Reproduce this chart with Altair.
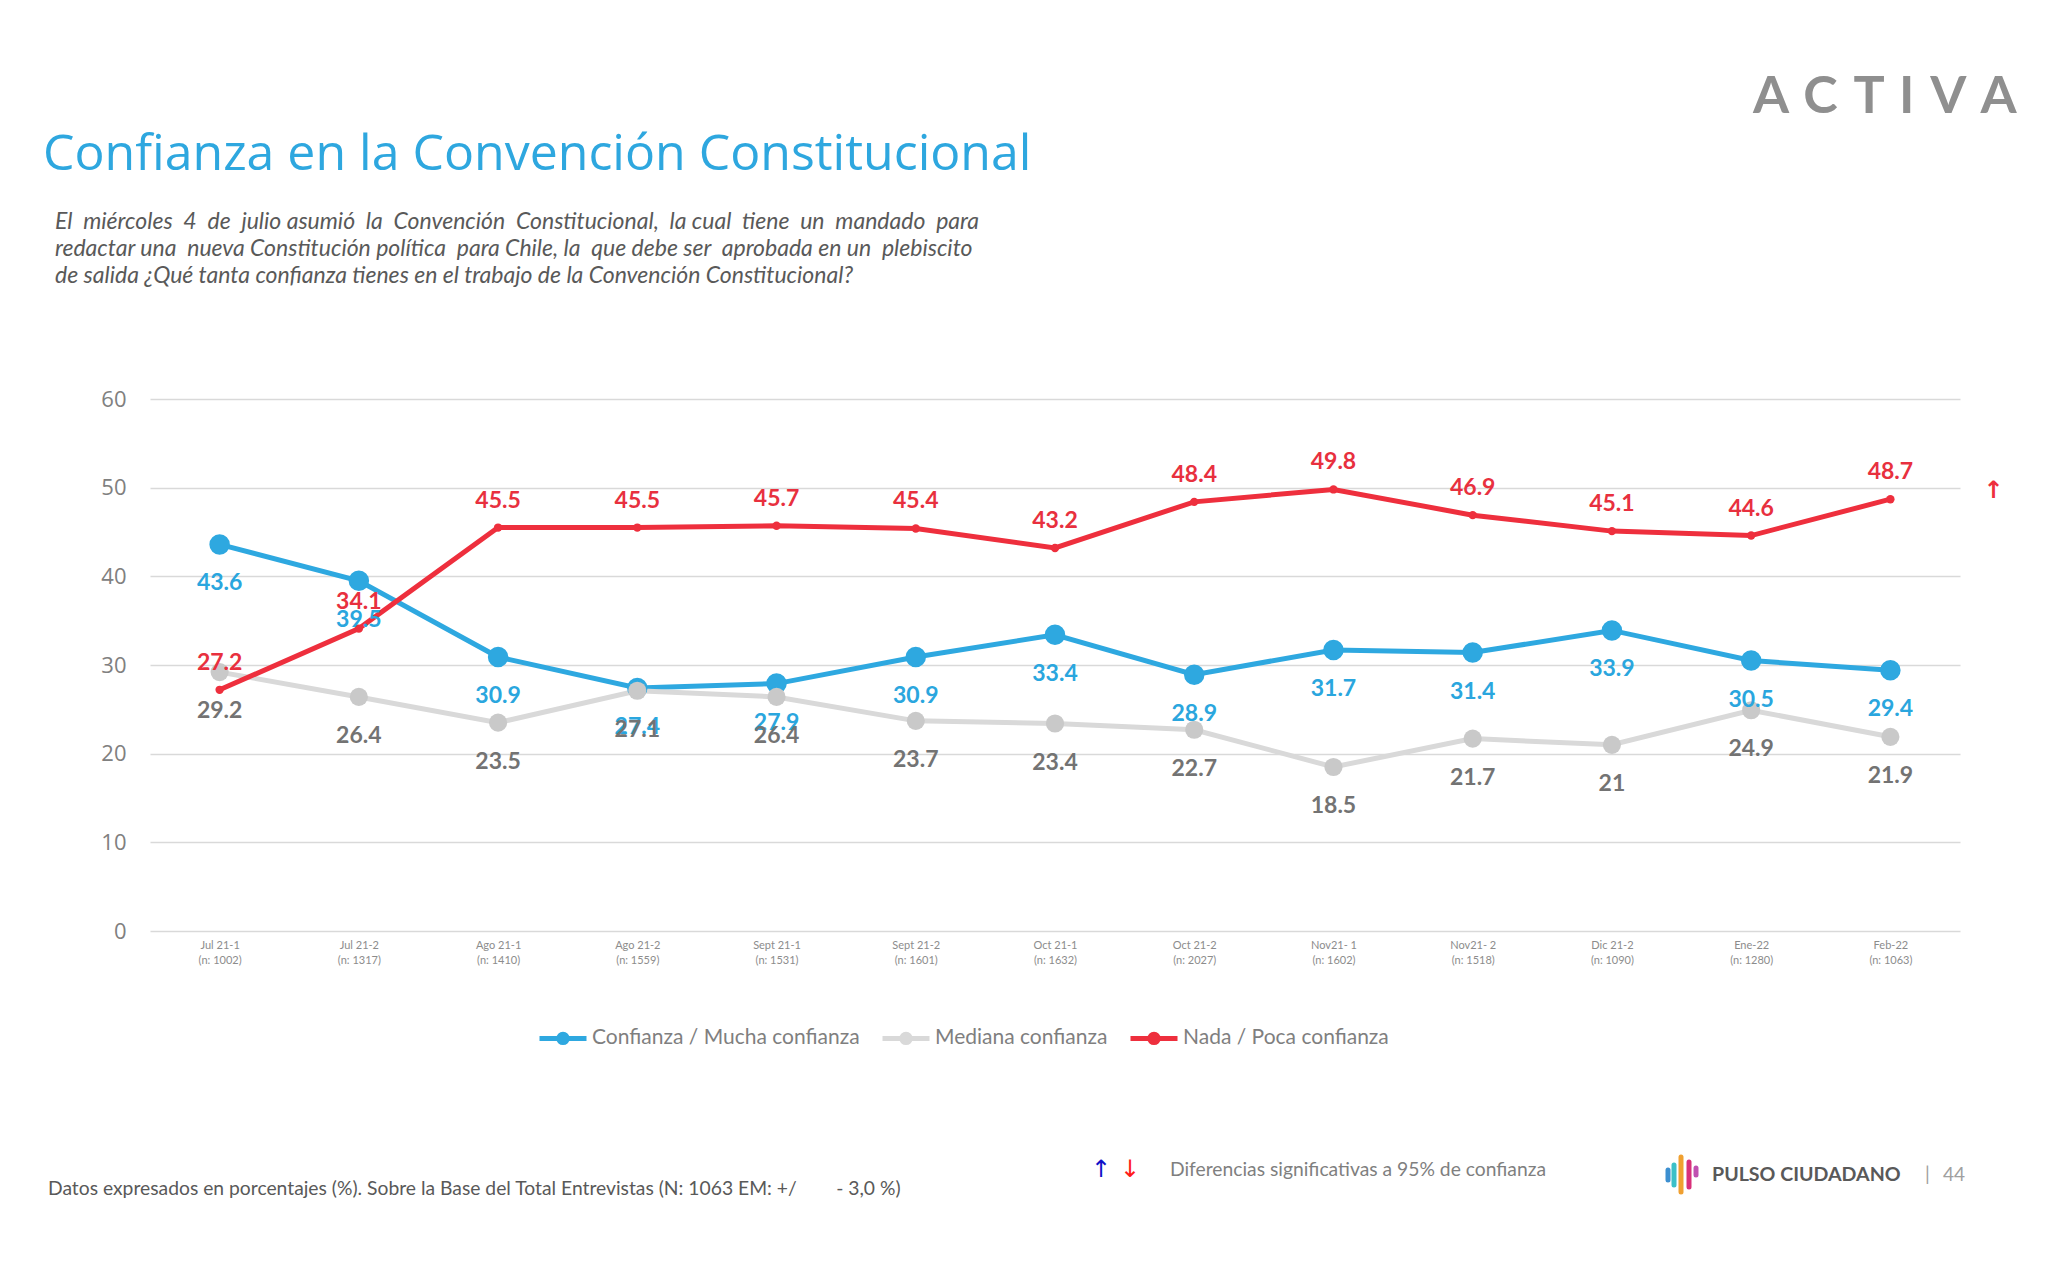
import altair as alt
import pandas as pd

# survey waves and their sample sizes
periods = ["Jul 21-1", "Jul 21-2", "Ago 21-1", "Ago 21-2", "Sept 21-1", "Sept 21-2",
           "Oct 21-1", "Oct 21-2", "Nov21- 1", "Nov21- 2", "Dic 21-2", "Ene-22", "Feb-22"]
sample_n = [1002, 1317, 1410, 1559, 1531, 1601, 1632, 2027, 1602, 1518, 1090, 1280, 1063]

series = ["Confianza / Mucha confianza", "Mediana confianza", "Nada / Poca confianza"]
confianza = [43.6, 39.5, 30.9, 27.4, 27.9, 30.9, 33.4, 28.9, 31.7, 31.4, 33.9, 30.5, 29.4]
mediana = [29.2, 26.4, 23.5, 27.1, 26.4, 23.7, 23.4, 22.7, 18.5, 21.7, 21, 24.9, 21.9]
nada = [27.2, 34.1, 45.5, 45.5, 45.7, 45.4, 43.2, 48.4, 49.8, 46.9, 45.1, 44.6, 48.7]

# significant change marker
sig_series = "Nada / Poca confianza"
sig_period = "Feb-22"

line_colors = ["#2EA8E0", "#D9D9D9", "#EE2F3D"]
dot_colors = ["#2EA8E0", "#C9C9C9", "#EE2F3D"]
dot_sizes = [420, 330, 70]
label_colors = ["#2AA6DE", "#737373", "#E8303E"]
label_dy = [39, 39, -27]

ticks = [f"{p}|(n: {n})" for p, n in zip(periods, sample_n)]

rows = []
for name, values in zip(series, [confianza, mediana, nada]):
    for p, t, v in zip(periods, ticks, values):
        rows.append({"series": name, "period": p, "tick": t, "value": v,
                     "label": f"{v:g}"})
df = pd.DataFrame(rows)

x = alt.X("tick:N", sort=ticks, scale=alt.Scale(type="point", padding=0.5),
          axis=alt.Axis(title=None, labelExpr="split(datum.label, '|')", labelAngle=0,
                        labelFontSize=11, labelColor="#8c8c8c", labelPadding=8,
                        labelLineHeight=15, domain=False, ticks=False, grid=False,
                        labelFont="Lato"))
y = alt.Y("value:Q", scale=alt.Scale(domain=[0, 60]),
          axis=alt.Axis(title=None, values=[0, 10, 20, 30, 40, 50, 60], labelFontSize=22,
                        labelColor="#808080", labelPadding=24, domain=False, ticks=False,
                        gridColor="#D9D9D9", gridWidth=1.3, labelFont="Open Sans"))

base = alt.Chart(df)

# line with a filled dot: two stroked rings make the dot look solid
legend_symbol = ("M-1,0L1,0"
                 "M-0.18,0A0.18,0.18,0,1,0,0.18,0A0.18,0.18,0,1,0,-0.18,0"
                 "M-0.06,0A0.06,0.06,0,1,0,0.06,0A0.06,0.06,0,1,0,-0.06,0")

lines = base.mark_line(strokeWidth=5).encode(
    x=x, y=y,
    color=alt.Color("series:N", sort=series,
                    scale=alt.Scale(domain=series, range=line_colors),
                    legend=alt.Legend(title=None, orient="none", legendX=387, legendY=613,
                                      direction="horizontal", symbolType=legend_symbol,
                                      symbolSize=2209, symbolStrokeWidth=5,
                                      labelFontSize=21, labelColor="#7f7f7f",
                                      labelFont="Lato", labelOffset=3, columnPadding=12,
                                      labelLimit=0)),
)

dots = [
    base.transform_filter(alt.datum.series == name).mark_circle(
        opacity=1, size=sz, color=col
    ).encode(x=x, y=y)
    for name, col, sz in zip(series, dot_colors, dot_sizes)
]

labels = [
    base.transform_filter(alt.datum.series == name).mark_text(
        dy=dy, color=col, fontSize=23, fontWeight="bold", font="Lato"
    ).encode(x=x, y=y, text="label:N")
    for name, col, dy in zip(series, label_colors, label_dy)
]

sig = base.transform_filter(
    (alt.datum.series == sig_series) & (alt.datum.period == sig_period)
).mark_text(text="↑", dx=103, dy=-8, fontSize=24, fontWeight="bold",
            color="#EE2F3D", font="DejaVu Sans").encode(x=x, y=y)


def note(text, px, py, size, color, baseline="middle", **kw):
    # positions are given from the page and shifted to the plot origin
    return alt.Chart(pd.DataFrame({"t": [text]})).mark_text(
        align="left", baseline=baseline, fontSize=size, color=color, **kw
    ).encode(x=alt.value(px + 3), y=alt.value(py + 4), text="t:N")


def bar(px, y1, y2, color):
    return alt.Chart(pd.DataFrame({"t": [0]})).mark_rule(
        strokeWidth=5, strokeCap="round", color=color
    ).encode(x=alt.value(px + 3), y=alt.value(y1 + 4), y2=alt.value(y2 + 4))


def spread(text, wide):
    # rough justification: widen some of the gaps between words
    words = text.split(" ")
    out = ""
    for i, w in enumerate(words[:-1]):
        out += w + (" \u00a0" if wide(i) else " ")
    return out + words[-1]


sub1 = spread("El miércoles 4 de julio asumió la Convención Constitucional, la cual tiene "
              "un mandado para", lambda i: i % 5 != 4)
sub2 = spread("redactar una nueva Constitución política para Chile, la que debe ser "
              "aprobada en un plebiscito", lambda i: i % 3 == 1)
sub3 = "de salida ¿Qué tanta confianza tienes en el trabajo de la Convención Constitucional?"

sub_style = dict(baseline="alphabetic", font="Lato", fontStyle="italic")
notes = [
    note("Confianza en la Convención Constitucional", -110, -233, 50, "#2EA7DF",
         baseline="alphabetic", font="Open Sans"),
    note(sub1, -98, -174, 23, "#595959", **sub_style),
    note(sub2, -98, -147, 23, "#595959", **sub_style),
    note(sub3, -98, -120, 23, "#595959", **sub_style),
    note("A \u200aC \u200aT \u200aI \u200aV \u200aA", 1600, -290, 52, "#8f8f8f",
         baseline="alphabetic", font="Lato", fontWeight="bold"),
    note("Datos expresados en porcentajes (%). Sobre la Base del Total Entrevistas "
         "(N: 1063 EM: +/\u00a0\u00a0\u00a0\u00a0\u00a0\u00a0\u00a0\u00a0- 3,0 %)",
         -105, 786, 19.3, "#595959", font="Lato"),
    note("↑", 938, 767, 24, "#1010C8", font="DejaVu Sans"),
    note("↓", 967, 767, 24, "#FF1A1A", font="DejaVu Sans"),
    note("Diferencias significativas a 95% de confianza", 1017, 767, 19.3, "#7f7f7f",
         font="Lato"),
    note("PULSO CIUDADANO", 1559, 772, 19.6, "#595959", font="Lato", fontWeight="bold"),
    note("|", 1772, 772, 19, "#a0a0a0", font="Lato"),
    note("44", 1790, 772, 19, "#a0a0a0", font="Lato"),
    bar(1515, 767, 777, "#3C8FD0"),
    bar(1521, 762, 782, "#3CC0C8"),
    bar(1528, 754, 789, "#F0A030"),
    bar(1536, 759, 784, "#D8307A"),
    bar(1543, 765, 772, "#C050B0"),
]

chart = alt.layer(lines, *dots, *labels, sig, *notes).properties(
    width=1810,
    height=532,
    padding={"left": 142, "top": 391, "right": 90, "bottom": 310},
    autosize=alt.AutoSizeParams(type="none"),
).configure_view(stroke=None)

chart.save("out.html", embed_options={"renderer": "svg", "actions": False})
